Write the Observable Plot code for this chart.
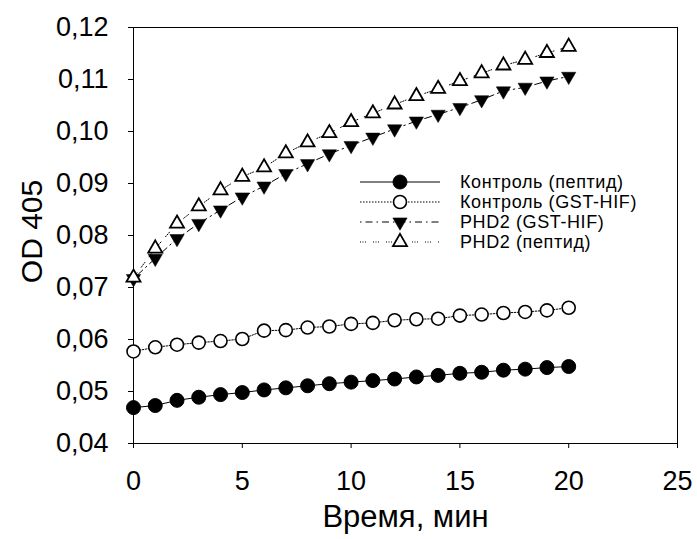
<!DOCTYPE html>
<html>
<head>
<meta charset="utf-8">
<script src="https://cdn.jsdelivr.net/npm/d3@7"></script>
<script src="https://cdn.jsdelivr.net/npm/@observablehq/plot@0.6"></script>
<style>
  html, body { margin: 0; padding: 0; background: #fff; }
  #chart { position: relative; width: 697px; height: 539px; }
</style>
</head>
<body>
<div id="chart"></div>
<script>
const minutes = [0,1,2,3,4,5,6,7,8,9,10,11,12,13,14,15,16,17,18,19,20];
const controlPeptide = [0.0469,0.0473,0.0483,0.0489,0.0494,0.0498,0.0503,0.0507,0.0511,0.0515,0.0518,0.0521,0.0524,0.0528,0.0531,0.0535,0.0537,0.0541,0.0543,0.0546,0.0548];
const controlGST = [0.0577,0.0585,0.0590,0.0594,0.0597,0.0601,0.0617,0.0618,0.0623,0.0625,0.0630,0.0632,0.0637,0.0639,0.0640,0.0646,0.0648,0.0651,0.0653,0.0656,0.0661];
const phd2GST = [0.0717,0.0756,0.0794,0.0823,0.0849,0.0874,0.0895,0.0919,0.0938,0.0957,0.0973,0.0989,0.1005,0.1020,0.1033,0.1046,0.1061,0.1078,0.1085,0.1097,0.1106];
const phd2Peptide = [0.0719,0.0775,0.0823,0.0856,0.0887,0.0913,0.0931,0.0958,0.0979,0.0997,0.1018,0.1035,0.1052,0.1068,0.1082,0.1097,0.1112,0.1127,0.1138,0.1151,0.1163];
const seriesNames = ["Контроль (пептид)", "Контроль (GST-HIF)", "PHD2 (GST-HIF)", "PHD2 (пептид)"];
const xTicks = [0,5,10,15,20,25];
const yTicks = [0.04,0.05,0.06,0.07,0.08,0.09,0.10,0.11,0.12];
const xTitle = "Время, мин";
const yTitle = "OD 405";

const triangleDown = {
  draw(context, size) {
    const y = -Math.sqrt(size / (Math.sqrt(3) * 3));
    context.moveTo(0, -y * 2);
    context.lineTo(-Math.sqrt(3) * y, y);
    context.lineTo(Math.sqrt(3) * y, y);
    context.closePath();
  }
};

const seriesValues = [controlPeptide, controlGST, phd2GST, phd2Peptide];
const styles = [
  {dash: null, symbol: "circle", r: 7, fill: "black", stroke: "black", sw: 1},
  {dash: "1.5,1.5", symbol: "circle", r: 6.5, fill: "white", stroke: "black", sw: 1.6},
  {dash: "1.5,4,7,4", symbol: triangleDown, r: 5.3, fill: "black", stroke: "black", sw: 0.5},
  {dash: "1,1.5,1,1.5,1,7", symbol: "triangle", r: 5.2, fill: "white", stroke: "black", sw: 1.8}
];

const data = seriesNames.map((name, i) => minutes.map((m, j) => ({name, t: m, v: seriesValues[i][j]})));

const font = "'Liberation Sans', Arial, sans-serif";
const marks = [Plot.frame({stroke: "black", strokeWidth: 1})];
data.forEach((d, i) => {
  const s = styles[i];
  marks.push(Plot.line(d, {x: "t", y: "v", stroke: "black", strokeWidth: 1, strokeDasharray: s.dash}));
});
data.forEach((d, i) => {
  const s = styles[i];
  marks.push(Plot.dot(d, {x: "t", y: "v", symbol: s.symbol, r: s.r, fill: s.fill, stroke: s.stroke, strokeWidth: s.sw}));
});
marks.push(
  Plot.axisX({ticks: xTicks, tickSize: 5, tickPadding: 22, fontSize: 27, label: null}),
  Plot.axisY({ticks: yTicks, tickSize: 5, tickPadding: 20, fontSize: 27, label: null,
    tickFormat: d => d.toFixed(2).replace(".", ",")}),
  Plot.text([xTitle], {frameAnchor: "bottom", dy: 83, fontSize: 31, text: d => d}),
  Plot.text([yTitle], {frameAnchor: "left", dx: -101, dy: -4, rotate: -90, textAnchor: "middle", fontSize: 30, text: d => d})
);

const chart = Plot.plot({
  width: 697,
  height: 539,
  marginLeft: 133,
  marginRight: 20,
  marginTop: 27,
  marginBottom: 96,
  style: {fontFamily: font, color: "black", background: "white", overflow: "visible"},
  x: {domain: [0, 25]},
  y: {domain: [0.04, 0.12]},
  marks
});

// legend
const svg = d3.select(chart);
const lg = svg.append("g").attr("font-family", font).attr("font-size", 18).attr("letter-spacing", "0.6px").attr("text-anchor", "start");
seriesNames.forEach((name, i) => {
  const s = styles[i];
  const yy = 182 + i * 20;
  const g = lg.append("g").attr("transform", `translate(0,${yy})`);
  g.append("line").attr("x1", 360).attr("x2", 440).attr("y1", 0).attr("y2", 0)
    .attr("stroke", "black").attr("stroke-width", 1).attr("stroke-dasharray", s.dash);
  const sym = typeof s.symbol === "string" ? (s.symbol === "circle" ? d3.symbolCircle : d3.symbolTriangle) : s.symbol;
  g.append("path").attr("transform", "translate(400,0)")
    .attr("d", d3.symbol(sym, s.r * s.r * Math.PI)())
    .attr("fill", s.fill).attr("stroke", s.stroke).attr("stroke-width", s.sw);
  g.append("text").attr("x", 460).attr("y", 0).attr("dy", "0.35em").attr("text-anchor", "start").text(name);
});

document.getElementById("chart").appendChild(chart);
</script>
</body>
</html>
